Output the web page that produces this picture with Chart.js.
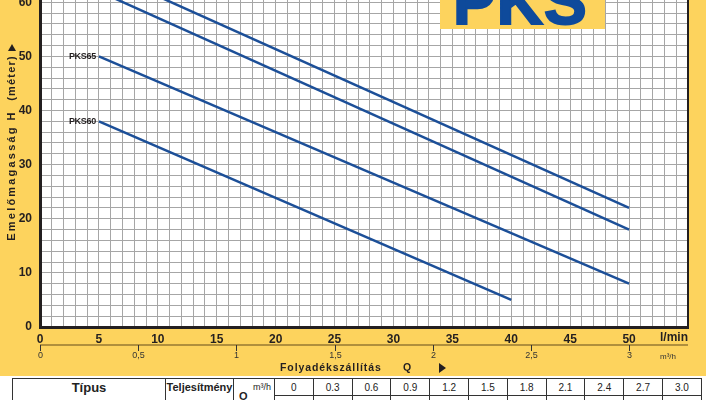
<!DOCTYPE html>
<html>
<head>
<meta charset="utf-8">
<script src="https://cdn.jsdelivr.net/npm/chart.js@4.4.1/dist/chart.umd.min.js"></script>
<style>
  body { margin:0; width:706px; height:400px; overflow:hidden; background:#fdd35d; position:relative; font-family:"Liberation Sans", Arial, sans-serif; }
  #wrap { position:absolute; left:0; top:-40px; width:706px; height:440px; }
  #logo { position:absolute; left:440px; top:-30px; width:165px; height:59px; background:#fdd35d; overflow:hidden; }
  #logo span { position:absolute; left:13px; top:0px; font-size:64px; line-height:1; font-weight:bold; color:#0e4a9b; letter-spacing:1px; -webkit-text-stroke:2px #0e4a9b; }
  #bottom { position:absolute; left:0; top:376px; width:706px; height:24px; background:#fff; }
  table { position:absolute; left:12px; top:378px; border-collapse:collapse; font-size:10px; color:#222; }
  td { border:1px solid #333; height:16px; padding:0; text-align:center; vertical-align:middle; }
</style>
</head>
<body>
<div id="wrap"><canvas id="c" width="706" height="440"></canvas></div>
<div id="logo"><span>PKS</span></div>
<div id="bottom"></div>
<table id="tbl"></table>
<script>
// pump curves: flow (l/min) and head (m)
var models = ["PKS80", "PKS70", "PKS65", "PKS60"];
var pks80Q = [5, 50], pks80H = [66, 22];
var pks70Q = [5, 50], pks70H = [62, 18];
var pks65Q = [5, 50], pks65H = [50, 8];
var pks60Q = [5, 40], pks60H = [38, 5];

var xLabels = [0, 5, 10, 15, 20, 25, 30, 35, 40, 45, 50];
var yLabels = [0, 10, 20, 30, 40, 50, 60];
var m3hTicks = [0, 0.5, 1, 1.5, 2, 2.5, 3];
var m3hLabels = ["0", "0,5", "1", "1,5", "2", "2,5", "3"];
var tableM3h = ["0", "0.3", "0.6", "0.9", "1.2", "1.5", "1.8", "2.1", "2.4", "2.7", "3.0"];

var YELLOW = "#fdd35d", INK = "#231f20", BLUE = "#1c4f98";
var OFF = 40; // canvas sits 40px above the page top

function pts(q, h) {
  var out = [];
  for (var i = 0; i < q.length; i++) out.push({x: q[i], y: h[i]});
  return out;
}

// table
var tbl = document.getElementById("tbl");
var r1 = "<tr><td rowspan='2' style='width:152px;font-size:13px;font-weight:bold;vertical-align:top;padding-top:1px'>Típus</td>" +
  "<td rowspan='2' style='width:67px;font-size:11px;font-weight:bold;vertical-align:top;padding-top:2px'>Teljesítmény</td>" +
  "<td rowspan='2' style='width:40px;position:relative;vertical-align:top'><span style='position:absolute;left:5px;top:11px;font-weight:bold;font-size:11px'>Q</span><span style='position:absolute;right:3px;top:3px;font-size:9px'>m³/h</span></td>";
var r2 = "<tr>";
for (var i = 0; i < tableM3h.length; i++) {
  r1 += "<td style='width:37.8px'>" + tableM3h[i] + "</td>";
  r2 += "<td></td>";
}
tbl.innerHTML = r1 + "</tr>" + r2 + "</tr>";

var decor = {
  id: "decor",
  beforeDraw: function (chart) {
    var ctx = chart.ctx, a = chart.chartArea;
    ctx.save();
    ctx.fillStyle = YELLOW;
    ctx.fillRect(0, 0, chart.width, chart.height);
    ctx.fillStyle = "#fff";
    ctx.fillRect(a.left, a.top, a.right - a.left, a.bottom - a.top);
    ctx.restore();
  },
  afterDraw: function (chart) {
    var ctx = chart.ctx, a = chart.chartArea, xs = chart.scales.x, ys = chart.scales.y;
    ctx.save();
    // right border
    ctx.strokeStyle = INK; ctx.lineWidth = 2;
    ctx.beginPath(); ctx.moveTo(a.right, a.top); ctx.lineTo(a.right, a.bottom + 1); ctx.stroke();

    // l/min unit
    ctx.fillStyle = INK;
    ctx.font = 'bold 12px "Liberation Sans"';
    ctx.textAlign = "right"; ctx.textBaseline = "middle";
    ctx.fillText("l/min", a.right, a.bottom + 11);

    // secondary m3/h axis
    var ly = a.bottom + 18;
    ctx.strokeStyle = "#b08f3c"; ctx.lineWidth = 2;
    ctx.beginPath(); ctx.moveTo(a.left, ly); ctx.lineTo(a.right, ly); ctx.stroke();
    ctx.strokeStyle = "#333"; ctx.lineWidth = 1;
    ctx.font = '9px "Liberation Sans"'; ctx.fillStyle = "#333"; ctx.textAlign = "center";
    for (var i = 0; i < m3hTicks.length; i++) {
      var px = Math.round(xs.getPixelForValue(m3hTicks[i] * 50 / 3)) + 0.5;
      ctx.beginPath(); ctx.moveTo(px, ly); ctx.lineTo(px, ly + 6); ctx.stroke();
      ctx.fillText(m3hLabels[i], px, ly + 11);
    }
    ctx.font = '8px "Liberation Sans"';
    ctx.fillText("m³/h", a.right - 20, ly + 12);

    // x title
    ctx.fillStyle = INK; ctx.textAlign = "left";
    ctx.font = 'bold 10.5px "Liberation Sans"';
    ctx.letterSpacing = "0.9px";
    ctx.fillText("Folyadékszállítás", 280, a.bottom + 41);
    ctx.letterSpacing = "0px";
    ctx.textAlign = "center";
    ctx.fillText("Q", 407, a.bottom + 41);
    ctx.beginPath();
    ctx.moveTo(439, a.bottom + 36); ctx.lineTo(446, a.bottom + 41); ctx.lineTo(439, a.bottom + 46); ctx.closePath(); ctx.fill();

    // y title (rotated)
    ctx.save();
    ctx.translate(12, 0);
    ctx.rotate(-Math.PI / 2);
    ctx.font = 'bold 11px "Liberation Sans"';
    ctx.letterSpacing = "2.2px";
    ctx.fillText("Emelőmagasság", -(183 + OFF), 0);
    ctx.letterSpacing = "1.2px";
    ctx.fillText("H", -(116 + OFF), 0);
    ctx.fillText("(méter)", -(78 + OFF), 0);
    ctx.letterSpacing = "0px";
    ctx.beginPath();
    var t = 47 + OFF;
    ctx.moveTo(-t - 4, -4); ctx.lineTo(-t + 3, 0); ctx.lineTo(-t - 4, 4); ctx.closePath(); ctx.fill();
    ctx.restore();

    // curve labels
    ctx.font = 'bold 9px "Liberation Sans"';
    ctx.letterSpacing = "-0.3px";
    ctx.textAlign = "right";
    chart.data.datasets.forEach(function (ds) {
      var p = ds.data[0];
      ctx.fillText(ds.label, xs.getPixelForValue(p.x) - 3, ys.getPixelForValue(p.y));
    });
    ctx.restore();
  }
};

function series(name, q, h) {
  return { label: name, data: pts(q, h), showLine: true, borderColor: BLUE, borderWidth: 2.5, pointRadius: 0, fill: false };
}

new Chart(document.getElementById("c"), {
  type: "scatter",
  data: {
    datasets: [
      series(models[0], pks80Q, pks80H),
      series(models[1], pks70Q, pks70H),
      series(models[2], pks65Q, pks65H),
      series(models[3], pks60Q, pks60H)
    ]
  },
  options: {
    responsive: false,
    animation: false,
    layout: { padding: { left: 0, right: 18, top: 0, bottom: 0 } },
    plugins: { legend: { display: false }, tooltip: { enabled: false } },
    scales: {
      x: {
        type: "linear", min: 0, max: 55,
        afterFit: function (s) { s.height = 73; },
        grid: { color: "#a6a6a6", lineWidth: 1, drawTicks: false },
        border: { display: true, color: INK, width: 3 },
        ticks: {
          stepSize: 1, autoSkip: false, maxRotation: 0, padding: 5,
          color: INK, font: { family: "Liberation Sans", size: 12, weight: "bold" },
          callback: function (v) { return xLabels.indexOf(v) >= 0 ? String(v) : ""; }
        }
      },
      y: {
        type: "linear", min: 0, max: 65,
        afterFit: function (s) { s.width = 40; },
        grid: { color: "#a6a6a6", lineWidth: 1, drawTicks: false },
        border: { display: true, color: INK, width: 3 },
        ticks: {
          stepSize: 2, autoSkip: false, padding: 8,
          color: INK, font: { family: "Liberation Sans", size: 12, weight: "bold" },
          callback: function (v) { return yLabels.indexOf(v) >= 0 ? String(v) : ""; }
        }
      }
    }
  },
  plugins: [decor]
});
</script>
</body>
</html>
